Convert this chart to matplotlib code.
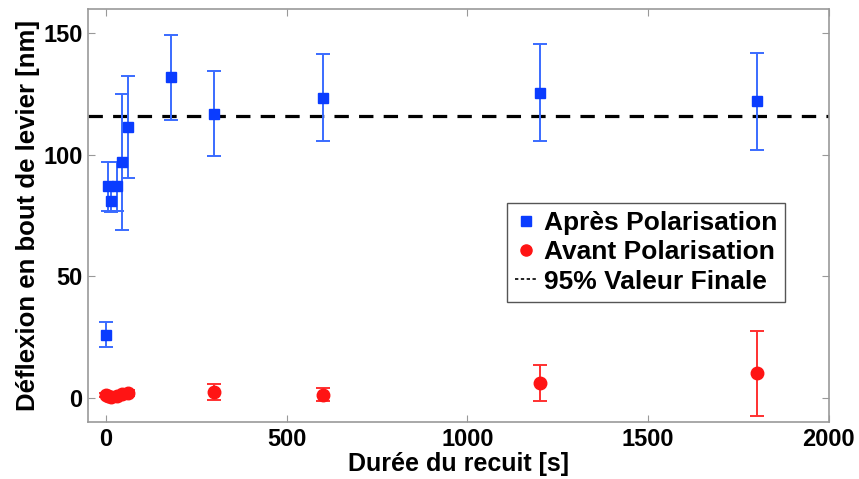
import matplotlib
matplotlib.use("Agg")
import matplotlib.pyplot as plt
from matplotlib.lines import Line2D

# annealing time [s]
t_apres = [0, 5, 15, 30, 45, 60, 180, 300, 600, 1200, 1800]
defl_apres = [26, 87, 81, 87, 97, 111.5, 132, 117, 123.5, 125.5, 122]
err_apres = [5, 10, 4.5, 10, 28, 21, 17.5, 17.5, 18, 20, 20]

t_avant = [0, 5, 15, 30, 45, 60, 300, 600, 1200, 1800]
defl_avant = [1.0, 0.6, 0.3, 0.8, 1.5, 2.0, 2.4, 1.3, 6, 10]
err_avant = [0.8, 0.8, 0.8, 0.8, 1.0, 1.2, 3.3, 2.6, 7.3, 17.5]

valeur_finale = 116

plt.rcParams["font.family"] = ["Liberation Sans", "DejaVu Sans"]
plt.rcParams["font.weight"] = "bold"

fig = plt.figure(figsize=(8.59, 4.79), dpi=100)
ax = fig.add_axes([0.1024, 0.119, 0.8626, 0.862])

ax.axhline(valeur_finale, color="black", lw=2.3, ls=(0, (4.5, 3.2)), zorder=1)
ax.errorbar(t_apres, defl_apres, yerr=err_apres, fmt="s", color="#0a3cff",
            ecolor="#3a6bff", elinewidth=1.4, capsize=5, capthick=1.4,
            markersize=7.5, zorder=3)
ax.errorbar(t_avant, defl_avant, yerr=err_avant, fmt="o", color="#ff1414",
            ecolor="#ff3030", elinewidth=1.4, capsize=5, capthick=1.4,
            markersize=9, zorder=3)

ax.set_xlim(-50, 2000)
ax.set_ylim(-10, 160)
ax.set_xticks([0, 500, 1000, 1500, 2000])
ax.set_yticks([0, 50, 100, 150])
ax.tick_params(direction="in", top=True, right=True, length=5,
               color="#999999", labelsize=17, pad=4)
for s in ax.spines.values():
    s.set_color("#999999")
    s.set_linewidth(1.2)

ax.set_xlabel("Durée du recuit [s]", fontsize=18, fontweight="bold", labelpad=1)
ax.set_ylabel("Déflexion en bout de levier [nm]", fontsize=18.5,
              fontweight="bold", labelpad=2)

handles = [
    Line2D([], [], ls="none", marker="s", color="#0a3cff", markersize=7),
    Line2D([], [], ls="none", marker="o", color="#ff1414", markersize=8),
    Line2D([], [], color="black", lw=1.2, ls=(0, (2, 1.5))),
]
labels = ["Après Polarisation", "Avant Polarisation", "95% Valeur Finale"]
leg = ax.legend(handles, labels, loc="upper left", bbox_to_anchor=(0.565, 0.53),
                fontsize=19, handlelength=0.9, handletextpad=0.2,
                borderpad=0.3, labelspacing=0.2, fancybox=False,
                framealpha=1, edgecolor="#555555", borderaxespad=0)
leg.get_frame().set_linewidth(1.0)

fig.savefig("out.png", dpi=100)
